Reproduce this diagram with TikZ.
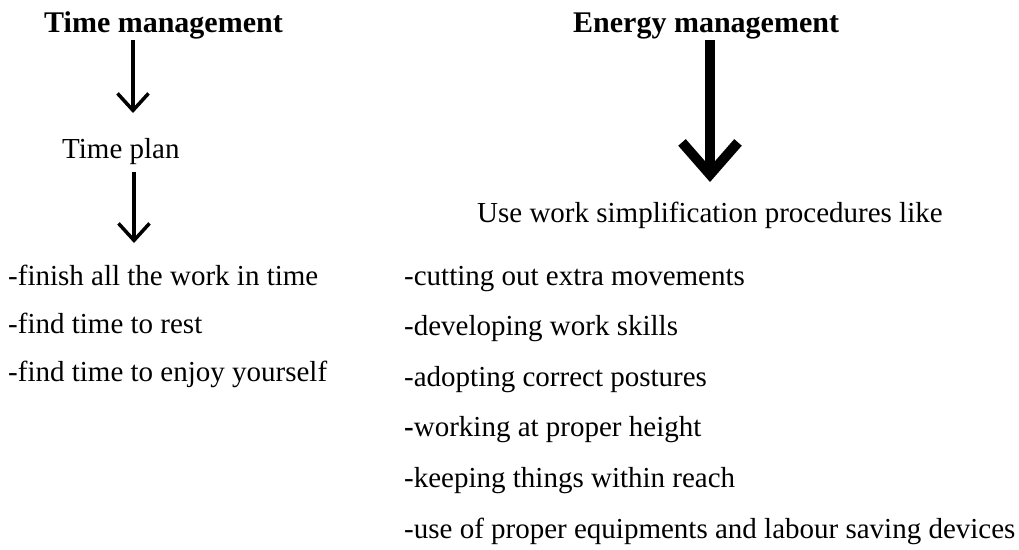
\documentclass[tikz,border=0pt]{standalone}
\usepackage{fontspec}
\setmainfont{Liberation Serif}
\usetikzlibrary{arrows.meta}
\tikzset{
  head/.style={anchor=base west, inner sep=0pt, font=\fontsize{30}{36}\selectfont\bfseries},
  txt/.style={anchor=base west, inner sep=0pt, font=\fontsize{29}{34}\selectfont},
  thin arrow/.style={line width=3.5pt, -{Straight Barb[sharp,length=17pt,width=31pt]}},
  thick arrow/.style={line width=10pt, -{Straight Barb[sharp,length=32pt,width=56pt]}}
}
\begin{document}
\begin{tikzpicture}[x=1pt,y=-1pt]
\useasboundingbox (0,0) rectangle (1019,549);
% left column
\node[head] (tm) at (44,32) {Time management};
\node[txt] (tp) at (62,158) {Time plan};
\node[txt] (l1) at (8,285) {-finish all the work in time};
\node[txt] (l2) at (8,333) {-find time to rest};
\node[txt] (l3) at (8,381) {-find time to enjoy yourself};
\coordinate (a1s) at (133,40);
\coordinate (a1e) at (133,113);
\coordinate (a2s) at (134,172);
\coordinate (a2e) at (134,243);
\draw[thin arrow] (a1s) -- (a1e);
\draw[thin arrow] (a2s) -- (a2e);
% right column
\node[head] (em) at (573,32) {Energy management};
\node[txt] (uw) at (477,222) {Use work simplification procedures like};
\node[txt] (r1) at (404,285) {-cutting out extra movements};
\node[txt] (r2) at (404,335) {-developing work skills};
\node[txt] (r3) at (404,386) {-adopting correct postures};
\node[txt] (r4) at (404,436) {\textbf{-}working at proper height};
\node[txt] (r5) at (404,487) {-keeping things within reach};
\node[txt] (r6) at (404,538) {-use of proper equipments and labour saving devices};
\coordinate (a3s) at (710,40);
\coordinate (a3e) at (710,182);
\draw[thick arrow] (a3s) -- (a3e);
\end{tikzpicture}
\end{document}
